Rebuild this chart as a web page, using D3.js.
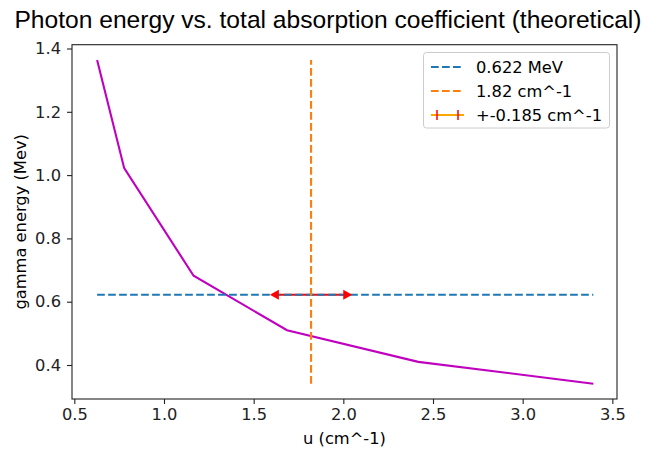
<!DOCTYPE html>
<html><head><meta charset="utf-8">
<script src="https://cdn.jsdelivr.net/npm/d3@7"></script>
<style>body{margin:0;background:#fff}svg{display:block}</style>
</head><body>
<svg id="c" width="657" height="449"></svg>
<script>
const uValues = [0.627, 0.778, 1.165, 1.686, 2.418, 3.394];
const energyValues = [1.364, 1.022, 0.682, 0.510, 0.410, 0.341];
const refEnergy = 0.622;
const refU = 1.82;
const errU = 0.185;
const xTicks = [0.5, 1.0, 1.5, 2.0, 2.5, 3.0, 3.5];
const yTicks = [0.4, 0.6, 0.8, 1.0, 1.2, 1.4];
const legendLabels = ["0.622 MeV", "1.82 cm^-1", "+-0.185 cm^-1"];

const svg = d3.select("#c");
const L = 72, R = 617, T = 44.7, B = 399;
const x = d3.scaleLinear().domain([0.487, 3.526]).range([L, R]);
const y = d3.scaleLinear().domain([0.2926, 1.412]).range([B, T]);
const tickFont = "DejaVu Sans, sans-serif";
const fs = 16.3;

// title
svg.append("text").attr("x", 328).attr("y", 28).attr("text-anchor", "middle")
  .attr("font-family", "Liberation Sans, Arial, sans-serif").attr("font-size", 24.6)
  .attr("fill", "#000").text("Photon energy vs. total absorption coefficient (theoretical)");

const g = svg.append("g");
const xMin = d3.min(uValues), xMax = d3.max(uValues);
const yMin = d3.min(energyValues), yMax = d3.max(energyValues);

// magenta line
g.append("path").datum(uValues.map((u, i) => [u, energyValues[i]]))
  .attr("d", d3.line().x(d => x(d[0])).y(d => y(d[1])))
  .attr("fill", "none").attr("stroke", "#bf00bf").attr("stroke-width", 2.1);

// error bar line (red) beneath
g.append("line").attr("x1", x(refU - errU)).attr("x2", x(refU + errU))
  .attr("y1", y(refEnergy)).attr("y2", y(refEnergy))
  .attr("stroke", "red").attr("stroke-width", 2.1);

// blue dashed horizontal
g.append("line").attr("x1", x(xMin)).attr("x2", x(xMax))
  .attr("y1", y(refEnergy)).attr("y2", y(refEnergy))
  .attr("stroke", "#1f77b4").attr("stroke-width", 2.1).attr("stroke-dasharray", "7.7,3.3");

// orange dashed vertical
g.append("line").attr("x1", x(refU)).attr("x2", x(refU))
  .attr("y1", y(yMin)).attr("y2", y(yMax))
  .attr("stroke", "#ff7f0e").attr("stroke-width", 2.1).attr("stroke-dasharray", "7.7,3.3");

// arrows
const ay = y(refEnergy);
const lx = x(refU - errU), rx = x(refU + errU);
g.append("path").attr("d", `M${lx-8},${ay} L${lx+1},${ay-5} L${lx+1},${ay+5} Z`).attr("fill", "red");
g.append("path").attr("d", `M${rx+8},${ay} L${rx-1},${ay-5} L${rx-1},${ay+5} Z`).attr("fill", "red");

// axes
const xAxis = svg.append("g").attr("transform", `translate(0,${B})`)
  .call(d3.axisBottom(x).tickValues(xTicks).tickFormat(d3.format(".1f")).tickSizeOuter(0).tickSize(5).tickPadding(4));
const yAxis = svg.append("g").attr("transform", `translate(${L},0)`)
  .call(d3.axisLeft(y).tickValues(yTicks).tickFormat(d3.format(".1f")).tickSizeOuter(0).tickSize(5).tickPadding(6));
[xAxis, yAxis].forEach(a => {
  a.select(".domain").remove();
  a.selectAll("line").attr("stroke", "#222").attr("stroke-width", 1.1);
  a.selectAll("text").attr("font-family", tickFont).attr("font-size", fs).attr("fill", "#222");
});
svg.append("rect").attr("x", L).attr("y", T).attr("width", R - L).attr("height", B - T)
  .attr("fill", "none").attr("stroke", "#222").attr("stroke-width", 1.1);

// axis labels
svg.append("text").attr("x", (L + R) / 2).attr("y", 444).attr("text-anchor", "middle")
  .attr("font-family", tickFont).attr("font-size", fs).attr("fill", "#000").text("u (cm^-1)");
svg.append("text").attr("transform", `translate(26,${(T + B) / 2}) rotate(-90)`).attr("text-anchor", "middle")
  .attr("font-family", tickFont).attr("font-size", fs).attr("fill", "#000").text("gamma energy (Mev)");

// legend
const lg = svg.append("g");
lg.append("rect").attr("x", 423.5).attr("y", 52.5).attr("width", 186).attr("height", 75.5).attr("rx", 3)
  .attr("fill", "#fff").attr("fill-opacity", 0.8).attr("stroke", "#ccc").attr("stroke-width", 1);
const rows = [67, 91, 115];
lg.append("line").attr("x1", 431).attr("x2", 464).attr("y1", rows[0]).attr("y2", rows[0])
  .attr("stroke", "#1f77b4").attr("stroke-width", 2.1).attr("stroke-dasharray", "7.7,3.3");
lg.append("line").attr("x1", 431).attr("x2", 464).attr("y1", rows[1]).attr("y2", rows[1])
  .attr("stroke", "#ff7f0e").attr("stroke-width", 2.1).attr("stroke-dasharray", "7.7,3.3");
lg.append("line").attr("x1", 431).attr("x2", 464).attr("y1", rows[2]).attr("y2", rows[2])
  .attr("stroke", "#ffa500").attr("stroke-width", 2.1);
[437, 458].forEach(cx => lg.append("line").attr("x1", cx).attr("x2", cx).attr("y1", rows[2] - 5).attr("y2", rows[2] + 5)
  .attr("stroke", "red").attr("stroke-width", 1.5));
legendLabels.forEach((t, i) => lg.append("text").attr("x", 476).attr("y", rows[i] + 5.5)
  .attr("font-family", tickFont).attr("font-size", fs).attr("fill", "#000").text(t));
</script>
</body></html>
